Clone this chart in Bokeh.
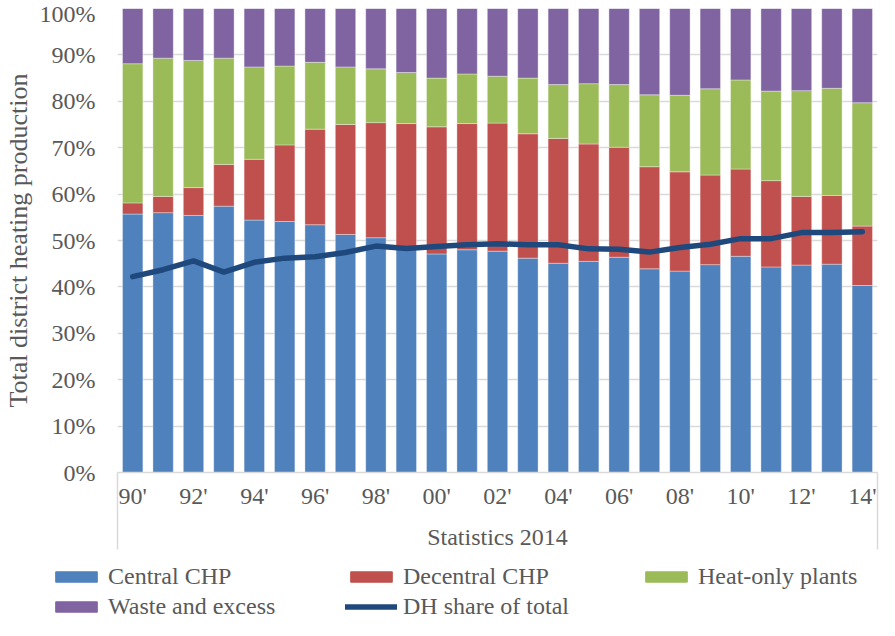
from bokeh.plotting import figure
from bokeh.layouts import column
from bokeh.models import (ColumnDataSource, Range1d, FixedTicker, PrintfTickFormatter,
                          Legend, LegendItem)
from bokeh.embed import file_html
from bokeh.resources import INLINE

# ---- data (shares of total district heating production, %) ----
years = [1990, 1991, 1992, 1993, 1994, 1995, 1996, 1997, 1998, 1999, 2000, 2001, 2002,
         2003, 2004, 2005, 2006, 2007, 2008, 2009, 2010, 2011, 2012, 2013, 2014]
central_chp = [55.7, 56.0, 55.4, 57.4, 54.4, 54.1, 53.4, 51.3, 50.6, 48.5, 47.1, 48.0, 47.7,
               46.2, 45.1, 45.5, 46.4, 43.9, 43.4, 44.8, 46.6, 44.3, 44.7, 44.9, 40.3]
decentral_chp = [2.4, 3.5, 6.0, 9.0, 13.1, 16.5, 20.6, 23.7, 24.8, 26.7, 27.4, 27.2, 27.6,
                 26.8, 26.9, 25.3, 23.7, 22.0, 21.4, 19.3, 18.8, 18.6, 14.8, 14.8, 12.8]
heat_only = [30.0, 29.8, 27.4, 22.9, 19.9, 17.0, 14.4, 12.4, 11.6, 11.0, 10.5, 10.7, 10.1,
             12.0, 11.6, 13.0, 13.5, 15.5, 16.5, 18.6, 19.2, 19.3, 22.8, 23.1, 26.6]
waste_excess = [11.9, 10.7, 11.2, 10.7, 12.6, 12.4, 11.6, 12.6, 13.0, 13.8, 15.0, 14.1, 14.6,
                15.0, 16.4, 16.2, 16.4, 18.6, 18.7, 17.3, 15.4, 17.8, 17.7, 17.2, 20.3]
dh_share = [42.2, 43.7, 45.6, 43.2, 45.3, 46.2, 46.5, 47.4, 48.8, 48.3, 48.7, 49.1, 49.3,
            49.1, 49.1, 48.2, 48.1, 47.5, 48.5, 49.2, 50.4, 50.4, 51.7, 51.7, 51.9]

series_names = ["Central CHP", "Decentral CHP", "Heat-only plants", "Waste and excess"]
series_cols = ["central", "decentral", "heat", "waste"]
line_name = "DH share of total"
tick_years = [1990, 1992, 1994, 1996, 1998, 2000, 2002, 2004, 2006, 2008, 2010, 2012, 2014]
tick_labels = ["90'", "92'", "94'", "96'", "98'", "00'", "02'", "04'", "06'", "08'", "10'", "12'", "14'"]
y_ticks = [0, 10, 20, 30, 40, 50, 60, 70, 80, 90, 100]
group_label = "Statistics 2014"
y_title = "Total district heating production"

colors = ["#4f81bd", "#c0504d", "#9bbb59", "#8064a2"]
line_color = "#1f497d"
text_color = "#595959"
grid_color = "#d9d9d9"
FONT = "Liberation Serif"

idx = list(range(len(years)))
src = ColumnDataSource(dict(x=idx, central=central_chp, decentral=decentral_chp,
                            heat=heat_only, waste=waste_excess, dh=dh_share))

p = figure(width=879, height=552, x_range=Range1d(-0.5, len(years) - 0.5),
           y_range=Range1d(0, 100), output_backend="svg", toolbar_location=None,
           min_border_left=113, min_border_right=2, min_border_top=8, min_border_bottom=80,
           outline_line_color=None, background_fill_color="white")

bars = p.vbar_stack(series_cols, x="x", width=0.67,
                    color=colors, line_color="white", line_alpha=0.35, line_width=1,
                    source=src)
ln = p.line("x", "dh", source=src, line_color=line_color, line_width=5.5,
            line_cap="round", line_join="round")

# y axis
ya = p.yaxis[0]
ya.ticker = FixedTicker(ticks=y_ticks, minor_ticks=[])
ya.formatter = PrintfTickFormatter(format="%d%%")
ya.axis_line_color = None
ya.major_tick_line_color = None
ya.minor_tick_line_color = None
ya.major_label_text_font = FONT
ya.major_label_text_font_size = "24px"
ya.major_label_text_color = text_color
ya.major_label_standoff = 16
ya.axis_label = y_title
ya.axis_label_text_font = FONT
ya.axis_label_text_font_size = "26px"
ya.axis_label_text_font_style = "normal"
ya.axis_label_text_color = text_color
ya.axis_label_standoff = 4

# x axis: labels every other year, group label below, edge separators as long minor ticks
TICK_OUT = 77
xa = p.xaxis[0]
tick_pos = [years.index(y) for y in tick_years]
xa.ticker = FixedTicker(ticks=tick_pos, minor_ticks=[-0.5, len(years) - 0.5])
xa.major_label_overrides = {pos: lab for pos, lab in zip(tick_pos, tick_labels)}
xa.axis_line_color = grid_color
xa.axis_line_width = 1.5
xa.major_tick_line_color = None
xa.major_tick_in = 0
xa.major_tick_out = 0
xa.minor_tick_line_color = grid_color
xa.minor_tick_line_width = 1.5
xa.minor_tick_in = 0
xa.minor_tick_out = TICK_OUT
xa.major_label_text_font = FONT
xa.major_label_text_font_size = "24px"
xa.major_label_text_color = text_color
xa.major_label_standoff = 10 - TICK_OUT
xa.axis_label = group_label
xa.axis_label_text_font = FONT
xa.axis_label_text_font_size = "24px"
xa.axis_label_text_font_style = "normal"
xa.axis_label_text_color = text_color
xa.axis_label_standoff = 12

p.xgrid.visible = False
p.ygrid.grid_line_color = grid_color
p.ygrid.grid_line_width = 1.5

# legend strip (separate canvas so the legend is not clipped by the plot frame)
lg = figure(width=879, height=68, x_range=Range1d(-0.5, len(years) - 0.5),
            y_range=Range1d(0, 100), x_axis_location=None, y_axis_location=None,
            output_backend="svg", toolbar_location=None,
            min_border_left=0, min_border_right=0, min_border_top=0, min_border_bottom=0,
            outline_line_color=None)
for fig in (p, lg):
    if "frame_align" in fig.properties():
        fig.frame_align = False
lg.grid.visible = False
leg_renderers = [lg.vbar(x="x", top=col, width=0.67, source=src, fill_color=c,
                         line_color=c, visible=False)
                 for col, c in zip(series_cols, colors)]
leg_line = lg.line("x", "dh", source=src, line_color=line_color, line_width=5.5,
                   line_cap="round", visible=False)

items = [LegendItem(label=n, renderers=[r]) for n, r in zip(series_names, leg_renderers)]
items.append(LegendItem(label=line_name, renderers=[leg_line]))
legend = Legend(items=items, orientation="horizontal", ncols=3,
                location=(50, 0), glyph_width=52, glyph_height=13,
                label_standoff=6, label_width=234, label_height=24, spacing=3,
                padding=0, margin=0, border_line_alpha=0, background_fill_alpha=0,
                inactive_fill_alpha=0,
                label_text_font=FONT, label_text_font_size="24px",
                label_text_color=text_color)
lg.add_layout(legend, "center")

layout = column(p, lg, spacing=0)

with open("out.html", "w") as f:
    f.write(file_html(layout, INLINE))
